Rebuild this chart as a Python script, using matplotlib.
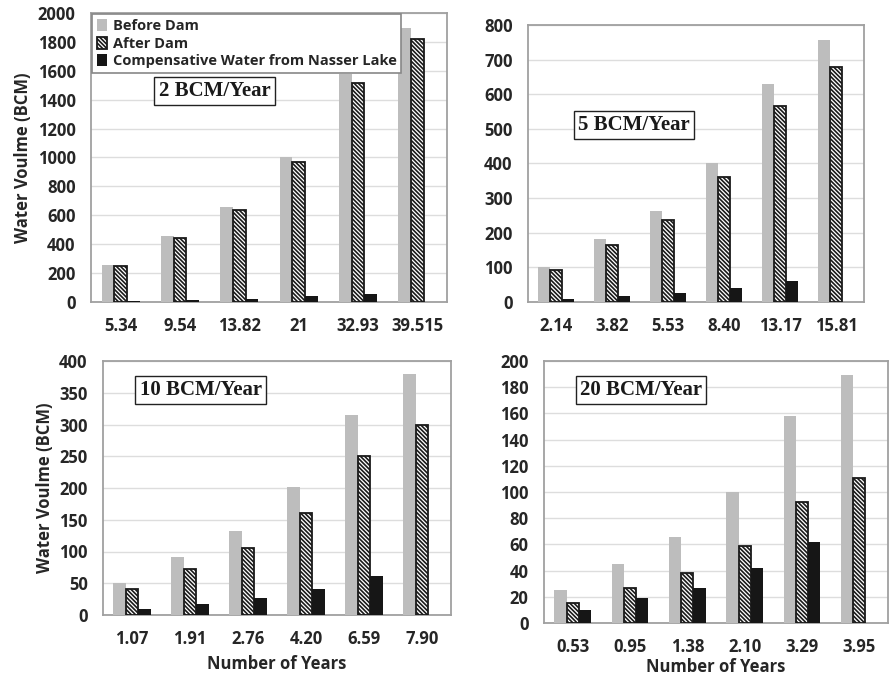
import matplotlib
matplotlib.use("Agg")
import matplotlib.pyplot as plt
import numpy as np

plt.rcParams['font.family'] = ['Open Sans', 'DejaVu Sans']
plt.rcParams['font.weight'] = 'bold'
plt.rcParams['hatch.linewidth'] = 1.2

# ---- data ----
years_2 = ["5.34", "9.54", "13.82", "21", "32.93", "39.515"]
before_2 = [254, 455, 659, 1006, 1579, 1893]
after_2 = [250, 442, 638, 969, 1517, 1822]
comp_2 = [6, 16, 22, 39, 58, 0]

years_5 = ["2.14", "3.82", "5.53", "8.40", "13.17", "15.81"]
before_5 = [100, 181, 264, 401, 630, 757]
after_5 = [92, 164, 238, 361, 566, 679]
comp_5 = [9, 17, 26, 40, 61, 0]

years_10 = ["1.07", "1.91", "2.76", "4.20", "6.59", "7.90"]
before_10 = [50, 91, 132, 201, 315, 379]
after_10 = [41, 73, 105, 160, 250, 300]
comp_10 = [10, 18, 27, 41, 61, 0]

years_20 = ["0.53", "0.95", "1.38", "2.10", "3.29", "3.95"]
before_20 = [25, 45, 66, 100, 158, 189]
after_20 = [15, 27, 38, 59, 92, 111]
comp_20 = [10, 19, 27, 42, 62, 0]

series_names = ["Before Dam", "After Dam", "Compensative Water from Nasser Lake"]

W, H = 889, 676
fig = plt.figure(figsize=(W / 100, H / 100), dpi=100)


def px_axes(left, right, top, bottom):
    return fig.add_axes([left / W, (H - bottom) / H, (right - left) / W, (bottom - top) / H])


def panel(ax, labels, b, a, c, ymax, ystep, title, tbox_xy):
    x = np.arange(len(labels))
    w = 0.215
    ax.bar(x - w, b, w, color='#BDBDBD', edgecolor='none', zorder=3, label=series_names[0])
    ax.bar(x, a, w, facecolor='white', edgecolor='#1a1a1a', hatch='\\\\\\\\\\\\\\\\', lw=1.3,
           zorder=3, label=series_names[1])
    ax.bar(x + w, c, w, color='#161616', edgecolor='none', zorder=3, label=series_names[2])
    ax.set_xlim(-0.5, len(labels) - 0.5)
    ax.set_ylim(0, ymax)
    ax.set_yticks(np.arange(0, ymax + ystep / 2, ystep))
    ax.set_xticks(x)
    ax.set_xticklabels(labels)
    ax.tick_params(length=0, labelsize=12, colors='#262626', pad=11)
    ax.tick_params(axis='x', pad=11)
    for lab in ax.get_xticklabels() + ax.get_yticklabels():
        lab.set_fontweight('bold')
    ax.grid(axis='y', color='#DDDDDD', lw=1.0, zorder=0)
    ax.set_axisbelow(True)
    for s in ax.spines.values():
        s.set_color('#A0A0A0')
        s.set_linewidth(1.3)
    ax.text(tbox_xy[0], tbox_xy[1], title, transform=ax.transAxes,
            family=['Liberation Serif'], fontsize=15, fontweight='bold', color='#1a1a1a',
            ha='left', va='center', zorder=6,
            bbox=dict(boxstyle='square,pad=0.2', facecolor='white', edgecolor='#222222', lw=1.0))


ax1 = px_axes(91, 447, 13, 302)
panel(ax1, years_2, before_2, after_2, comp_2, 2000, 200, "2 BCM/Year", (0.19, 0.73))
ax2 = px_axes(528, 864, 25, 302)
panel(ax2, years_5, before_5, after_5, comp_5, 800, 100, "5 BCM/Year", (0.15, 0.64))
ax3 = px_axes(103, 451, 361, 615)
panel(ax3, years_10, before_10, after_10, comp_10, 400, 50, "10 BCM/Year", (0.105, 0.885))
ax4 = px_axes(544, 888, 361, 623)
panel(ax4, years_20, before_20, after_20, comp_20, 200, 20, "20 BCM/Year", (0.105, 0.89))

for ax in (ax1, ax3):
    ax.set_ylabel("Water Voulme (BCM)", fontsize=12, fontweight='bold', color='#262626', labelpad=4)
ax3.set_xlabel("Number of Years", fontsize=12, fontweight='bold', color='#262626', labelpad=5)
ax4.set_xlabel("Number of Years", fontsize=12, fontweight='bold', color='#262626', labelpad=1)

leg = ax1.legend(loc='upper left', bbox_to_anchor=(0.0, 1.0), fontsize=10.5, frameon=True,
                 fancybox=False, edgecolor='#888888', framealpha=1, borderpad=0.3,
                 handlelength=0.7, handleheight=0.9, handletextpad=0.4, labelspacing=0.25,
                 borderaxespad=0.1)
leg.get_frame().set_linewidth(1.2)
for t in leg.get_texts():
    t.set_fontweight('bold')
    t.set_color('#262626')
leg.set_zorder(10)

fig.savefig("out.png", dpi=100)
